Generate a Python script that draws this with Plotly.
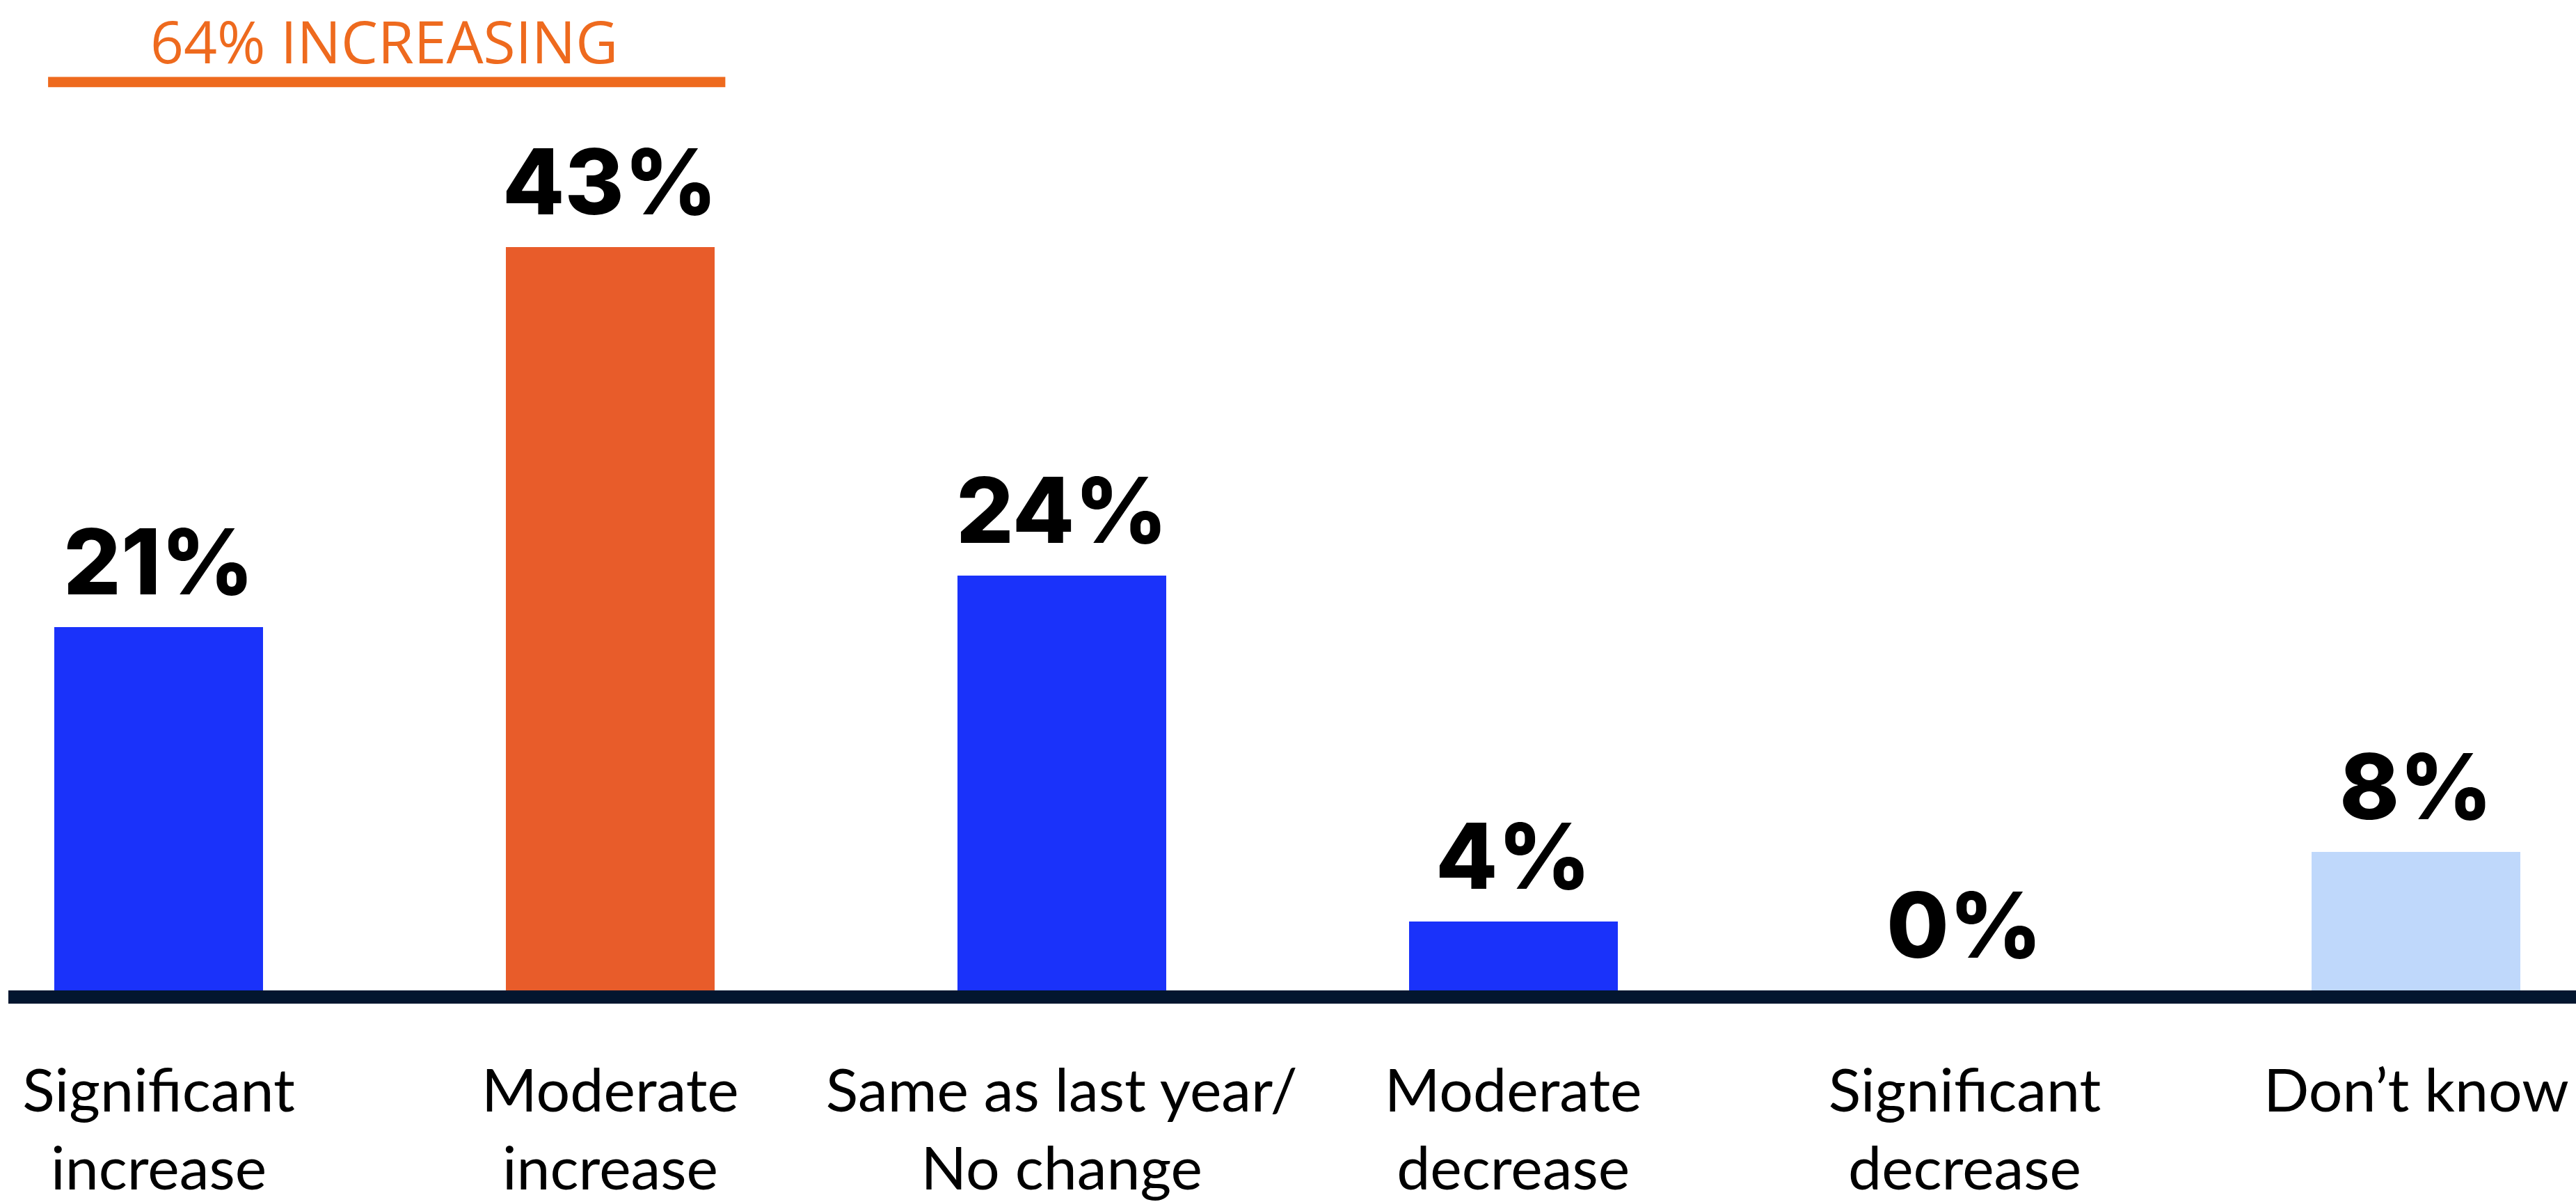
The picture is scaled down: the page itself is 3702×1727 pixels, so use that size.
import plotly.graph_objects as go

# Survey responses: expected change compared with last year
categories = [
    "Significant<br>increase",
    "Moderate<br>increase",
    "Same as last year/<br>No change",
    "Moderate<br>decrease",
    "Significant<br>decrease",
    "Don’t know",
]
values = [21, 43, 24, 4, 0, 8]
bar_colors = ["#1A32FA", "#E85C2A", "#1A32FA", "#1A32FA", "#1A32FA", "#BFD8FB"]

header_text = "64% INCREASING"
ORANGE_TEXT = "#EE6A1E"
AXIS_COLOR = "#03162F"

fig = go.Figure()
fig.add_trace(
    go.Bar(
        x=categories,
        y=values,
        marker=dict(color=bar_colors, line=dict(width=0)),
        width=0.462,
        hoverinfo="skip",
    )
)

# Value labels above each bar
for cat, v in zip(categories, values):
    fig.add_annotation(
        x=cat, y=v, text=f"{v}%", showarrow=False,
        yanchor="bottom", yshift=14,
        font=dict(family="Inter", size=130, color="#000000", weight=800),
    )

# Bracket over the two "increase" bars
fig.add_shape(
    type="rect", xref="x", yref="paper",
    x0=-0.245, x1=1.255, y0=0.9120, y1=0.9224,
    fillcolor=ORANGE_TEXT, line=dict(width=0),
)
fig.add_annotation(
    x=0.5, xref="x", y=1.0, yref="paper", text=header_text,
    showarrow=False, xanchor="center", yanchor="top", borderpad=0,
    font=dict(family="Open Sans", size=84, color=ORANGE_TEXT),
)

fig.update_layout(
    width=3702, height=1727,
    margin=dict(l=12, r=0, t=0, b=284),
    paper_bgcolor="white", plot_bgcolor="white",
    showlegend=False,
    bargap=0,
)
fig.update_xaxes(
    range=[-0.333, 5.354],
    showline=True, linecolor=AXIS_COLOR, linewidth=19,
    showgrid=False, zeroline=False, ticks="",
    tickfont=dict(family="Lato", size=86, color="#000000"),
    ticklabelstandoff=52,
)
fig.update_yaxes(
    range=[0, 57.3],
    visible=False, showgrid=False, zeroline=False,
)

fig.write_html("out.html")
